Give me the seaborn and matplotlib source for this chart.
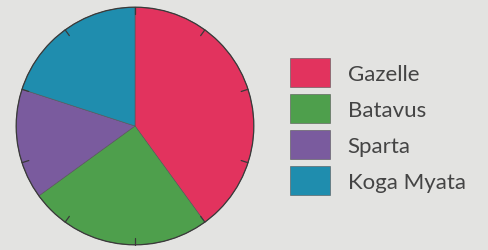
import numpy as np
import matplotlib
matplotlib.use("Agg")
import matplotlib.pyplot as plt
import seaborn as sns

# Data (share of the pie, %)
brands = ["Gazelle", "Batavus", "Sparta", "Koga Myata"]
shares = [40, 25, 15, 20]
colors = ["#E2335E", "#4E9F4C", "#7A5B9E", "#1F8DAE"]

sns.set_theme(style="white")
plt.rcParams["font.family"] = ["Lato", "DejaVu Sans"]

bg = "#E3E3E1"
fig = plt.figure(figsize=(4.89, 2.51), dpi=100, facecolor=bg)

W, H = 489, 251
cx, cy, r = 135, 127, 120
ax = fig.add_axes([(cx - r) / W, (H - cy - r) / H, 2 * r / W, 2 * r / H])
ax.set_facecolor(bg)

wedges, _ = ax.pie(shares, colors=colors, startangle=90, counterclock=False,
                   radius=1, wedgeprops=dict(linewidth=0.4, edgecolor="#555555"))

# outline of the pie
circle = plt.Circle((0, 0), 1, fill=False, edgecolor="#3a3a3a", linewidth=0.9)
ax.add_patch(circle)

# small tick marks every 10% around the rim
for ang in np.deg2rad(90 - np.arange(0, 360, 36)):
    ax.plot([0.94 * np.cos(ang), np.cos(ang)], [0.94 * np.sin(ang), np.sin(ang)],
            color="#3a3a3a", linewidth=0.9)

ax.set_xlim(-1.01, 1.01)
ax.set_ylim(-1.01, 1.01)
ax.set_aspect("equal")
ax.axis("off")

fig.legend(wedges, brands, loc="upper left", bbox_to_anchor=(281 / W, 1 - 50 / H),
           frameon=False, fontsize=16, labelcolor="#444444",
           handlelength=1.8, handleheight=1.65, labelspacing=0.3,
           handletextpad=0.8, borderaxespad=0)

fig.savefig("out.png", dpi=100, facecolor=bg)
